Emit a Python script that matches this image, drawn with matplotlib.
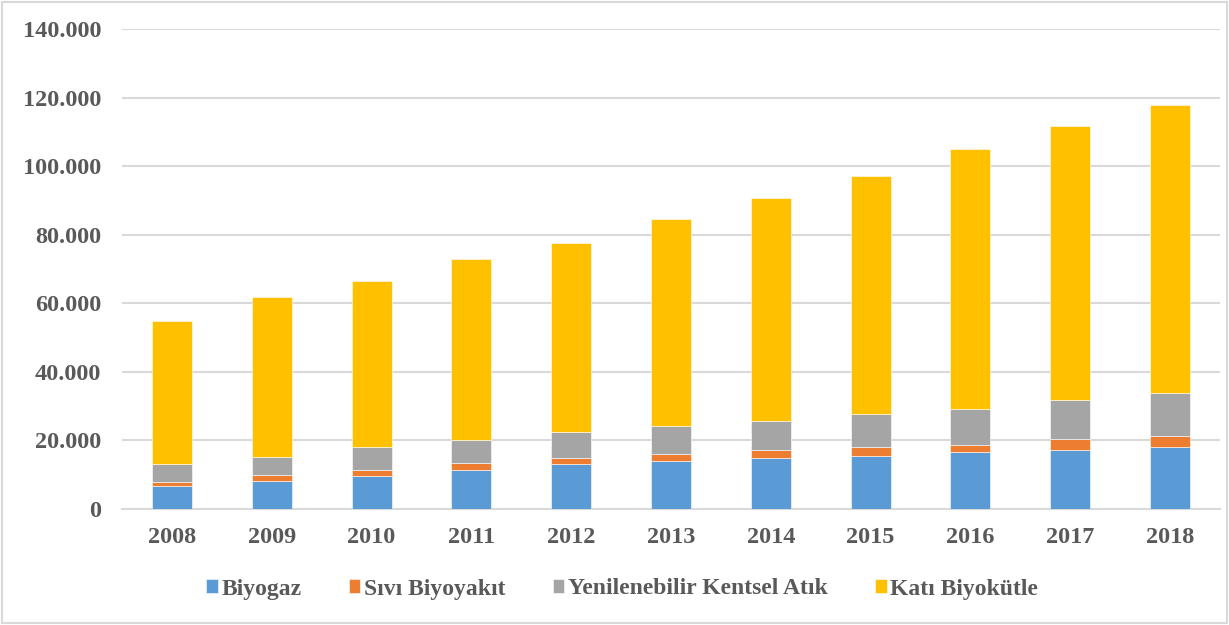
import numpy as np
import matplotlib
matplotlib.use("Agg")
import matplotlib.pyplot as plt
from matplotlib.ticker import FuncFormatter
from matplotlib.patches import Rectangle

years = ["2008", "2009", "2010", "2011", "2012", "2013", "2014", "2015", "2016", "2017", "2018"]
biyogaz = [6800, 8300, 9500, 11400, 13100, 13900, 14800, 15500, 16500, 17200, 18000]
sivi_biyoyakit = [1100, 1600, 1800, 1900, 1900, 2100, 2400, 2500, 2300, 3200, 3300]
kentsel_atik = [5300, 5300, 6700, 6800, 7400, 8300, 8600, 9700, 10500, 11400, 12600]
kati_biyokutle = [41600, 46600, 48500, 52900, 55300, 60400, 64800, 69500, 75700, 79900, 83900]

series = [
    ("Biyogaz", biyogaz, "#5B9BD5"),
    ("Sıvı Biyoyakıt", sivi_biyoyakit, "#ED7D31"),
    ("Yenilenebilir Kentsel Atık", kentsel_atik, "#A5A5A5"),
    ("Katı Biyokütle", kati_biyokutle, "#FFC000"),
]

plt.rcParams["font.family"] = ["Liberation Serif", "DejaVu Serif"]
text_col = "#595959"

fig = plt.figure(figsize=(12.29, 6.25), dpi=100)
ax = fig.add_axes([122 / 1229, 1 - 509 / 625, 1098 / 1229, 480 / 625])

x = np.arange(len(years))
bottom = np.zeros(len(years))
for name, vals, col in series:
    ax.bar(x, vals, 0.4, bottom=bottom, color=col, label=name,
           edgecolor="white", linewidth=0.4, zorder=3)
    bottom += np.array(vals)

ax.set_xlim(-0.5, len(years) - 0.5)
ax.set_ylim(0, 140000)
ax.set_yticks(np.arange(0, 140001, 20000))
ax.yaxis.set_major_formatter(FuncFormatter(lambda v, p: f"{int(v):,}".replace(",", ".")))
ax.set_xticks(x)
ax.set_xticklabels(years)
ax.grid(axis="y", color="#d9d9d9", linewidth=1.5, zorder=0)
for s in ["top", "right", "left"]:
    ax.spines[s].set_visible(False)
ax.spines["bottom"].set_color("#d9d9d9")
ax.spines["bottom"].set_linewidth(1.5)
ax.tick_params(axis="both", length=0, labelsize=17.5, labelcolor=text_col)
ax.tick_params(axis="y", pad=15)
ax.tick_params(axis="x", pad=13)
for lbl in ax.get_xticklabels() + ax.get_yticklabels():
    lbl.set_fontweight("bold")

leg = fig.legend(loc="center", bbox_to_anchor=(622 / 1229, 1 - 589 / 625), ncol=4,
                 frameon=False, handlelength=0.5, handleheight=0.5, handletextpad=0.15,
                 columnspacing=2.0, prop={"size": 17, "weight": "bold"})
for t in leg.get_texts():
    t.set_color(text_col)

fig.patches.append(Rectangle((2 / 1229, 2 / 625), 1 - 4 / 1229, 1 - 4 / 625,
                             transform=fig.transFigure, fill=False,
                             edgecolor="#d9d9d9", linewidth=1.5))

fig.savefig("out.png", dpi=100)
